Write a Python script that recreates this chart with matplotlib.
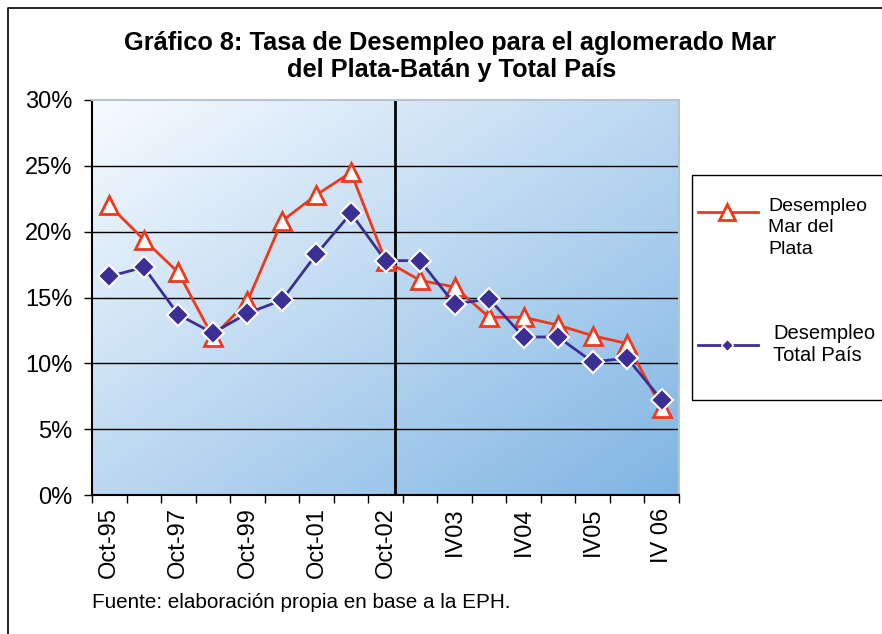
import matplotlib
matplotlib.use('Agg')
import matplotlib.pyplot as plt
from matplotlib.lines import Line2D
from matplotlib.patches import Rectangle
import numpy as np

periodos = ['Oct-95', 'Oct-96', 'Oct-97', 'Oct-98', 'Oct-99', 'Oct-00', 'Oct-01', 'May-02',
            'Oct-02', 'II03', 'IV03', 'II04', 'IV04', 'II05', 'IV05', 'II06', 'IV 06']
mar_del_plata = [22.0, 19.4, 16.9, 12.0, 14.7, 20.8, 22.8, 24.5, 17.8,
                 16.3, 15.8, 13.5, 13.5, 12.9, 12.1, 11.5, 6.6]
total_pais = [16.6, 17.3, 13.7, 12.3, 13.8, 14.8, 18.3, 21.4, 17.8,
              17.8, 14.5, 14.9, 12.0, 12.0, 10.1, 10.4, 7.2]
yticks = [0, 5, 10, 15, 20, 25, 30]

plt.rcParams['font.family'] = ['Liberation Sans', 'DejaVu Sans']

fig = plt.figure(figsize=(8.82, 6.34), dpi=100)
ax = fig.add_axes([92 / 882, 1 - 495 / 634, 587 / 882, 395 / 634])

x = np.arange(len(periodos))

# fondo degradado
gx, gy = np.meshgrid(np.linspace(0, 1, 200), np.linspace(1, 0, 200))
t = (gx + (1 - gy)) / 2
c0 = np.array([0.97, 0.985, 1.0])
c1 = np.array([0.50, 0.71, 0.89])
img = c0 + (c1 - c0) * t[..., None]
ax.imshow(img, extent=[0, 1, 0, 1], transform=ax.transAxes, aspect='auto', zorder=0)

for v in yticks[1:-1]:
    ax.axhline(v, color='black', lw=1, zorder=1)
ax.axvline(8.28, color='black', lw=2, zorder=2)

ax.plot(x, mar_del_plata, color='#ee3a1c', lw=2, marker='^', markersize=13,
        markerfacecolor='white', markeredgecolor='#ee3a1c', markeredgewidth=2, zorder=3)
ax.plot(x, total_pais, color='#3b2f94', lw=2, marker='D', markersize=11,
        markerfacecolor='#3b2f94', markeredgecolor='white', markeredgewidth=1.5, zorder=4)

ax.set_xlim(-0.5, len(periodos) - 0.5)
ax.set_ylim(0, 30)
ax.set_yticks(yticks)
ax.set_yticklabels([f'{v}%' for v in yticks], fontsize=17)
ax.tick_params(axis='y', direction='out', length=6, width=1, pad=8)
ax.set_xticks(x[::2])
ax.set_xticklabels(periodos[::2], rotation=90, fontsize=17)
ax.set_xticks(np.arange(-0.5, len(periodos), 1), minor=True)
ax.tick_params(axis='x', which='major', length=0, pad=9)
ax.tick_params(axis='x', which='minor', direction='out', length=6, width=1)

for s in ['left', 'bottom']:
    ax.spines[s].set_color('black')
    ax.spines[s].set_linewidth(1.5)
for s in ['top', 'right']:
    ax.spines[s].set_color('#b8c4d0')
    ax.spines[s].set_linewidth(1.5)

fig.text(450 / 882, 1 - 43 / 634, 'Gráfico 8: Tasa de Desempleo para el aglomerado Mar',
         ha='center', va='center', fontsize=18.3, fontweight='bold')
fig.text(452 / 882, 1 - 70 / 634, 'del Plata-Batán y Total País',
         ha='center', va='center', fontsize=18.3, fontweight='bold')
fig.text(92 / 882, 1 - 603 / 634, 'Fuente: elaboración propia en base a la EPH.',
         ha='left', va='center', fontsize=14.9)

# leyenda
def fx(px):
    return px / 882

def fy(py):
    return 1 - py / 634

fig.patches.append(Rectangle((fx(692), fy(400)), fx(900) - fx(692), fy(175) - fy(400),
                             transform=fig.transFigure, fill=False, edgecolor='black', lw=1))
fig.lines.append(Line2D([fx(698), fx(727), fx(758)], [fy(212), fy(212), fy(212)],
                        transform=fig.transFigure, color='#ee3a1c', lw=2, marker='^',
                        markevery=[1], markersize=12, markerfacecolor='white', markeredgewidth=2))
fig.lines.append(Line2D([fx(698), fx(727), fx(758)], [fy(345), fy(345), fy(345)],
                        transform=fig.transFigure, color='#3b2f94', lw=2, marker='D',
                        markevery=[1], markersize=6, markerfacecolor='#3b2f94',
                        markeredgecolor='white', markeredgewidth=1))
fig.text(fx(768), fy(198), 'Desempleo\nMar del\nPlata', ha='left', va='top',
         fontsize=14, linespacing=1.33)
fig.text(fx(773), fy(324), 'Desempleo\nTotal País', ha='left', va='top',
         fontsize=14.5, linespacing=1.22)

# marco exterior
fig.lines.append(Line2D([fx(7.5), fx(7.5), fx(890)], [fy(640), fy(7.5), fy(7.5)],
                        transform=fig.transFigure, color='black', lw=1.2))

fig.savefig('out.png', dpi=100)
